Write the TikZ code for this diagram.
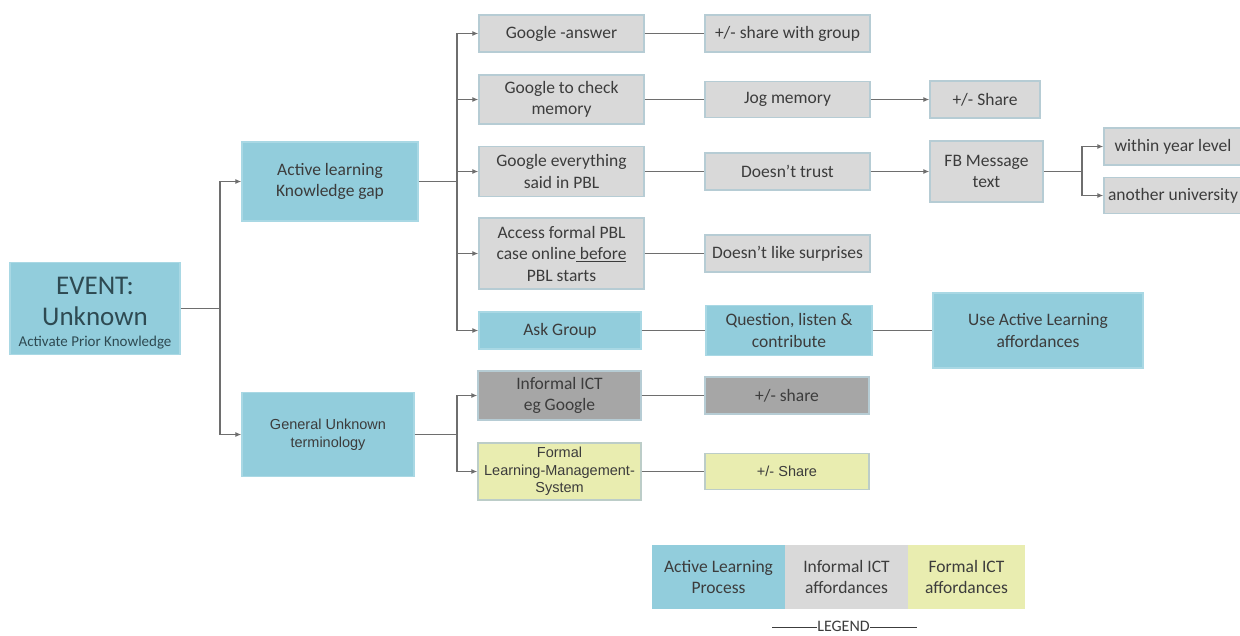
\documentclass[tikz,border=0pt]{standalone}
\usepackage{fontspec}
\setmainfont{Carlito}
\newfontfamily\arialfont{Liberation Sans}
\usetikzlibrary{arrows.meta}

\definecolor{blueF}{HTML}{92CDDC}
\definecolor{blueD}{HTML}{A9D8E4}
\definecolor{greyF}{HTML}{D9D9D9}
\definecolor{greyD}{HTML}{B6CCD4}
\definecolor{darkF}{HTML}{A6A6A6}
\definecolor{yelF}{HTML}{E9EDB0}
\definecolor{yelD}{HTML}{BCCDC8}
\definecolor{txt}{HTML}{3C3C3C}
\definecolor{evtxt}{HTML}{2E4A52}
\definecolor{wire}{HTML}{6E6E6E}

\tikzset{
  box/.style={draw, line width=1.3pt, inner sep=2pt, align=center, text=txt,
              font=\fontsize{17.5}{21.5}\selectfont},
  active/.style={box, fill=blueF, draw=blueD},
  informal/.style={box, fill=greyF, draw=greyD},
  darkbox/.style={box, fill=darkF, draw=greyD},
  formal/.style={box, fill=yelF, draw=yelD},
  arialtxt/.style={font=\arialfont\fontsize{14.5}{17.5}\selectfont},
  legendbox/.style={box, draw=none, minimum height=64pt},
  link/.style={draw=wire, line width=1.2pt},
  arr/.style={link, -{Latex[length=6pt,width=5pt]}},
}

\begin{document}
\begin{tikzpicture}[x=1pt,y=-1pt]
\useasboundingbox (0,0) rectangle (1240,635);

% root and first level
\node[active, minimum width=170pt, minimum height=92pt] (ev) at (95,308.5) {};
\node[align=center, text=evtxt, inner sep=0pt, font=\fontsize{27}{31}\selectfont] (evt) at (95,313.5)
  {EVENT:\\Unknown\\[-10pt]\fontsize{15}{17}\selectfont Activate Prior Knowledge};
\node[active, minimum width=176pt, minimum height=79pt] (act) at (330,181.5)
  {Active learning\\Knowledge gap};
\node[active, arialtxt, minimum width=172pt, minimum height=84pt] (gen) at (328,434.5)
  {General Unknown\\terminology};

% second level
\node[informal, minimum width=165pt, minimum height=37pt] (ga) at (561.5,33.5) {Google -answer};
\node[informal, minimum width=165pt, minimum height=49pt] (gc) at (561.5,99.5) {Google to check\\memory};
\node[informal, minimum width=165pt, minimum height=50pt] (ge) at (561.5,171.5) {Google everything\\said in PBL};
\node[informal, minimum width=165pt, minimum height=71pt] (af) at (561.5,253.5)
  {Access formal PBL\\case online\underline{\ before}\\PBL starts};
\node[active, minimum width=162pt, minimum height=37pt] (ag) at (560,330.5) {Ask Group};
\node[darkbox, minimum width=163pt, minimum height=49pt] (ii) at (559.5,395.5) {Informal ICT\\eg Google};
\node[formal, arialtxt, minimum width=163pt, minimum height=57pt] (fl) at (559.5,471.5)
  {Formal\\Learning-Management-\\System};

% third level
\node[informal, minimum width=165pt, minimum height=37pt] (sg) at (787.5,33.5) {+/- share with group};
\node[informal, minimum width=165pt, minimum height=36pt] (jm) at (787.5,99.5) {Jog memory};
\node[informal, minimum width=165pt, minimum height=37pt] (dt) at (787.5,171.5) {Doesn't trust};
\node[informal, minimum width=165pt, minimum height=37pt] (ds) at (787.5,253.5) {Doesn't like surprises};
\node[active, minimum width=166pt, minimum height=50pt] (ql) at (789,330.5) {Question, listen \&\\contribute};
\node[darkbox, minimum width=164pt, minimum height=37pt] (sh1) at (787,395.5) {+/- share};
\node[formal, arialtxt, minimum width=164pt, minimum height=36pt] (sh2) at (787,471.5) {+/- Share};

% fourth and fifth level
\node[informal, minimum width=110pt, minimum height=37pt] (ps) at (985,99.5) {+/- Share};
\node[informal, minimum width=113pt, minimum height=61pt] (fb) at (986.5,171.5) {FB Message\\text};
\node[active, minimum width=210pt, minimum height=75pt] (ua) at (1038,330.5) {Use Active Learning\\affordances};
\node[informal, minimum width=138pt, minimum height=37pt] (wy) at (1173,146.5) {within year level};
\node[informal, minimum width=138pt, minimum height=36pt] (au) at (1173,195.5) {another university};

% branch points
\coordinate (j0) at (220,308.5);
\coordinate (j1) at (457,181.5);
\coordinate (j2) at (457,434.5);
\coordinate (j3) at (1082,171.5);

\draw[link] (ev.east) -- (j0);
\draw[arr] (j0) |- (act.west);
\draw[arr] (j0) |- (gen.west);

\draw[link] (act.east) -- (j1);
\foreach \t in {ga,gc,ge,af,ag} \draw[arr] (j1) |- (\t.west);

\draw[link] (gen.east) -- (j2);
\foreach \t in {ii,fl} \draw[arr] (j2) |- (\t.west);

\draw[link] (ga.east) -- (sg.west);
\draw[link] (gc.east) -- (jm.west);
\draw[arr]  (jm.east) -- (ps.west);
\draw[link] (ge.east) -- (dt.west);
\draw[arr]  (dt.east) -- (fb.west);
\draw[link] (af.east) -- (ds.west);
\draw[link] (ag.east) -- (ql.west);
\draw[link] (ql.east) -- (ua.west);
\draw[link] (ii.east) -- (sh1.west);
\draw[link] (fl.east) -- (sh2.west);

\draw[link] (fb.east) -- (j3);
\draw[arr] (j3) |- (wy.west);
\draw[arr] (j3) |- (au.west);

% legend
\node[legendbox, fill=blueF, minimum width=133pt] (l1) at (718.5,577) {Active Learning\\Process};
\node[legendbox, fill=greyF, minimum width=123pt] (l2) at (846.5,577) {Informal ICT\\affordances};
\node[legendbox, fill=yelF, minimum width=117pt] (l3) at (966.5,577) {Formal ICT\\affordances};
\node[text=txt, font=\fontsize{16}{18}\selectfont, inner sep=0pt] (lg) at (843.5,626.5) {LEGEND};
\coordinate (lgl) at (772,627.5);
\coordinate (lgr) at (917,627.5);
\draw[draw=txt, line width=0.8pt] (lgl) -- (lg.west |- lgl);
\draw[draw=txt, line width=0.8pt] (lg.east |- lgr) -- (lgr);
\end{tikzpicture}
\end{document}
